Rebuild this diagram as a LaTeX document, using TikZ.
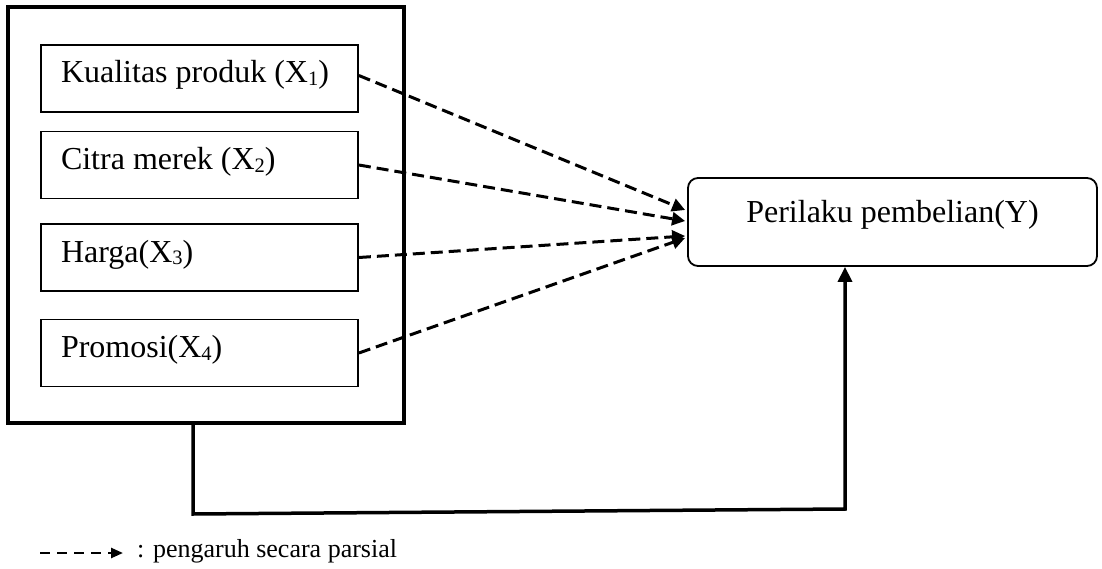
\documentclass[tikz,border=0pt]{standalone}
\usepackage{fontspec}
\setmainfont{Liberation Serif}
\usetikzlibrary{arrows.meta}
% small lowered index digit for the variable names
\newcommand\xsub[1]{\raisebox{-0.08em}{\fontsize{20.5pt}{20.5pt}\selectfont #1}}
% left-aligned label line inside a variable box
\newcommand\varlabel[1]{\makebox[277pt][l]{#1}}
\begin{document}
\begin{tikzpicture}[x=1pt,y=-1pt,
  bigfont/.style={font=\fontsize{32pt}{36pt}\selectfont},
  varbox/.style={draw, line width=1.8pt, minimum width=317pt, minimum height=67pt,
    inner xsep=20pt, inner ysep=0pt,
    text height=22pt, text depth=13pt, bigfont},
  groupbox/.style={draw, line width=4pt, minimum width=396pt, minimum height=416pt, inner sep=0pt},
  targetbox/.style={draw, line width=1.8pt, rounded corners=10pt, minimum width=409pt,
    minimum height=88pt, inner sep=0pt, text height=15pt, text depth=13pt, bigfont},
  partial/.style={line width=3pt, dash pattern=on 12pt off 6pt,
    -{Triangle[length=13pt,width=13pt]}},
  joint/.style={line width=3.5pt, -{Triangle[length=15pt,width=14pt]}},
  legendarrow/.style={line width=2.5pt, dash pattern=on 10pt off 7pt,
    -{Triangle[length=12pt,width=10pt]}}
]
\useasboundingbox (0,0) rectangle (1102,569);

% independent variables inside the group frame
\node[groupbox] (grp) at (206,215) {};
\node[varbox] (b1) at (199.5,78.5) {\varlabel{Kualitas produk (X\xsub{1})}};
\node[varbox] (b2) at (199.5,165) {\varlabel{Citra merek (X\xsub{2})}};
\node[varbox] (b3) at (199.5,257.5) {\varlabel{Harga(X\xsub{3})}};
\node[varbox] (b4) at (199.5,353) {\varlabel{Promosi(X\xsub{4})}};

% dependent variable
\node[targetbox] (Y) at (892.5,222) {Perilaku pembelian(Y)};

% partial effects
\draw[partial] ([yshift=3pt]b1.east) -- ([xshift=-2pt,yshift=12pt]Y.west);
\draw[partial] (b2.east) -- ([xshift=-2pt,yshift=1pt]Y.west);
\draw[partial] (b3.east) -- ([xshift=-2pt,yshift=-14pt]Y.west);
\draw[partial] (b4.east) -- ([xshift=-2pt,yshift=-16pt]Y.west);

% simultaneous effect
\coordinate (c1) at (193,514);
\coordinate (c2) at (845,509);
\draw[joint] ([xshift=-13pt]grp.south) -- (c1) -- (c2) -- ([xshift=-47.5pt]Y.south);

% legend
\coordinate (la) at (40,553);
\coordinate (lb) at (123,553);
\draw[legendarrow] (la) -- (lb);
\node[anchor=base west, inner sep=0pt, font=\fontsize{26pt}{30pt}\selectfont] (lg) at (137,557) {: pengaruh secara parsial};
\end{tikzpicture}
\end{document}
